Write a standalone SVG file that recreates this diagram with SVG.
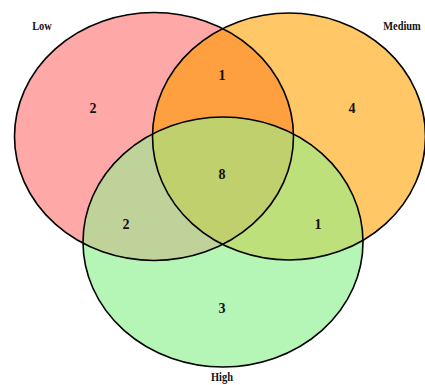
<svg xmlns="http://www.w3.org/2000/svg" width="425" height="385" viewBox="0 0 425 385">
<style>
.lbl{font-family:"Liberation Serif","Times New Roman",serif;font-weight:bold;font-size:13px;fill:#111;text-anchor:middle}
.num{font-size:14px}
.edge{fill:none;stroke:#000;stroke-width:1.6}
</style>
<defs>
<ellipse id="eL" cx="154" cy="136.5" rx="139.5" ry="124"/>
<ellipse id="eM" cx="289" cy="136.5" rx="136.5" ry="123.5"/>
<ellipse id="eH" cx="223" cy="242" rx="140" ry="125"/>
<clipPath id="cL"><use href="#eL"/></clipPath>
<clipPath id="cM"><use href="#eM"/></clipPath>
</defs>
<rect width="425" height="385" fill="#fff"/>
<g id="fills">
<use href="#eL" fill="#FFA8A8"/>
<use href="#eM" fill="#FFC766"/>
<use href="#eH" fill="#B5F5B5"/>
<g clip-path="url(#cL)"><use href="#eM" fill="#FFA040"/><use href="#eH" fill="#BFD29A"/></g>
<g clip-path="url(#cM)"><use href="#eH" fill="#BEE07A"/></g>
<g clip-path="url(#cL)"><g clip-path="url(#cM)"><use href="#eH" fill="#BFD06C"/></g></g>
</g>
<g id="low"><use href="#eL" class="edge"/><text class="lbl" transform="translate(42,30) scale(0.8,1)">Low</text></g>
<g id="medium"><use href="#eM" class="edge"/><text class="lbl" transform="translate(402,30) scale(0.8,1)">Medium</text></g>
<g id="high"><use href="#eH" class="edge"/><text class="lbl" transform="translate(222,381) scale(0.8,1)">High</text></g>
<g id="counts">
<text class="lbl num" x="93" y="113">2</text>
<text class="lbl num" x="222" y="80">1</text>
<text class="lbl num" x="352" y="113">4</text>
<text class="lbl num" x="222" y="179">8</text>
<text class="lbl num" x="126" y="229">2</text>
<text class="lbl num" x="318" y="229">1</text>
<text class="lbl num" x="222" y="313">3</text>
</g>
<g id="connectors"></g>
</svg>
